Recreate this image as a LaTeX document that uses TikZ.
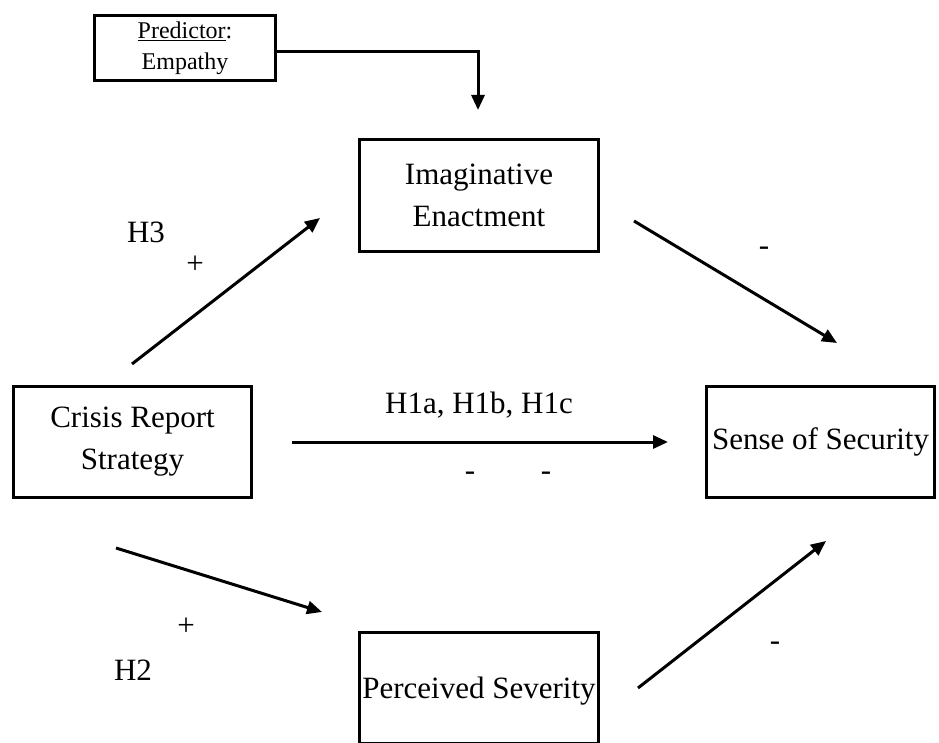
\documentclass[tikz,border=0pt]{standalone}
\usepackage{fontspec}
\setmainfont{Liberation Serif}
\usetikzlibrary{arrows.meta}

\begin{document}
\begin{tikzpicture}[x=1pt, y=-1pt,
                    every node/.style={font=\fontsize{31}{42}\selectfont},
                    box/.style={draw, line width=3.5pt, align=center, inner sep=0pt},
                    link/.style={line width=3pt, -{Triangle[length=15pt, width=13pt]}}]
\useasboundingbox (0,0) rectangle (939,743);

% Boxes
\node[box, minimum width=181, minimum height=65, font=\fontsize{24}{31}\selectfont] (pred) at (185,48) {\underline{Predictor}:\\Empathy};
\node[box, minimum width=239, minimum height=112] (imag) at (479,195.5) {Imaginative\\Enactment};
\node[box, minimum width=238, minimum height=111] (crisis) at (132.5,442) {Crisis Report\\Strategy};
\node[box, minimum width=228, minimum height=111] (sense) at (820.5,442) {Sense of Security};
\node[box, minimum width=239, minimum height=111, text depth=0pt] (sev) at (479,688) {Perceived Severity};

% Free ends of the arrows
\coordinate (predin) at (478,52);
\coordinate (predout) at (478,110);
\coordinate (h3s) at (132,364);
\coordinate (h3e) at (320,218);
\coordinate (ies) at (634,221);
\coordinate (iee) at (837,343);
\coordinate (h1s) at (292,442);
\coordinate (h1e) at (668,442);
\coordinate (h2s) at (116,548);
\coordinate (h2e) at (322,612);
\coordinate (pss) at (638,688);
\coordinate (pse) at (826,541);

% Arrows
\draw[link] (pred.east |- predin) -- (predin) -- (predout);
\draw[link] (h3s) -- (h3e);
\draw[link] (ies) -- (iee);
\draw[link] (h1s) -- (h1e);
\draw[link] (h2s) -- (h2e);
\draw[link] (pss) -- (pse);

% Labels
\node (lh3) at (146,232) {H3};
\node (lh3p) at (195,265) {+};
\node (lie) at (764,251) {-};
\node (lh1) at (479,405) {H1a, H1b, H1c};
\node (lh1m) at (470,476) {-};
\node (lh1n) at (546,476) {-};
\node (lh2p) at (186,627) {+};
\node (lh2) at (133,670) {H2};
\node (lps) at (775,646) {-};

\end{tikzpicture}
\end{document}
